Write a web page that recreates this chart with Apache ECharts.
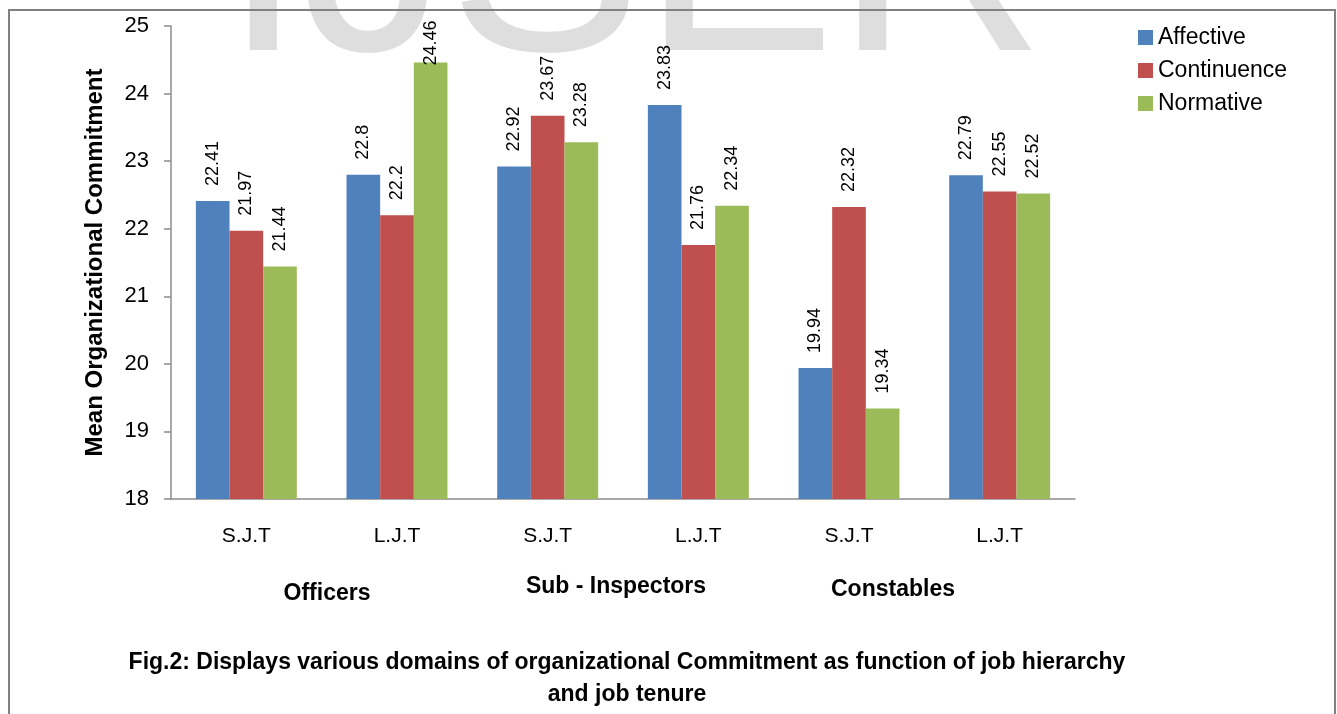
<!DOCTYPE html>
<html>
<head>
<meta charset="utf-8">
<script src="https://cdn.jsdelivr.net/npm/echarts@6/dist/echarts.min.js"></script>
<style>
  html, body { margin: 0; padding: 0; background: #fff; }
  #chart { width: 1337px; height: 714px; }
</style>
</head>
<body>
<div id="chart"></div>
<script>
// tenure under each rank
const tenures = ['S.J.T', 'L.J.T', 'S.J.T', 'L.J.T', 'S.J.T', 'L.J.T']
const ranks = ['Officers', 'Sub - Inspectors', 'Constables']

const affective = [22.41, 22.8, 22.92, 23.83, 19.94, 22.79]
const continuence = [21.97, 22.2, 23.67, 21.76, 22.32, 22.55]
const normative = [21.44, 24.46, 23.28, 22.34, 19.34, 22.52]

const yTicks = [18, 19, 20, 21, 22, 23, 24, 25]

const font = "'Liberation Sans', Arial, sans-serif"

const chart = echarts.init(document.getElementById('chart'))

// value label sits above the bar, rotated; the tallest one is pulled down to fit
function barSeries(name, values, color) {
  return {
    name: name,
    type: 'bar',
    barGap: 0,
    barCategoryGap: '33%',
    itemStyle: { color: color },
    label: {
      show: true,
      position: 'top',
      rotate: 90,
      align: 'left',
      verticalAlign: 'middle',
      distance: 15,
      fontSize: 18,
      fontFamily: font,
      color: '#000'
    },
    data: values.map(v => v > 24.2 ? { value: v, label: { distance: -3 } } : v)
  }
}

const option = {
  animation: false,
  backgroundColor: '#fff',
  grid: { left: 171, right: 262, top: 26, bottom: 215 },
  legend: {
    orient: 'vertical',
    left: 1133,
    top: 21,
    icon: 'rect',
    itemWidth: 15,
    itemHeight: 15,
    itemGap: 10,
    textStyle: { fontSize: 23, fontFamily: font, color: '#000' }
  },
  xAxis: {
    type: 'category',
    data: tenures,
    axisLine: { lineStyle: { color: '#8c8c8c', width: 1.5 } },
    axisTick: { length: 7, lineStyle: { color: '#8c8c8c', width: 1.5 } },
    axisLabel: { margin: 27, fontSize: 21, fontFamily: font, color: '#000' }
  },
  yAxis: {
    type: 'value',
    min: yTicks[0],
    max: yTicks[yTicks.length - 1],
    interval: 1,
    name: 'Mean Organizational Commitment',
    nameLocation: 'middle',
    nameGap: 64,
    nameTextStyle: { fontSize: 24, fontWeight: 'bold', fontFamily: font, color: '#000' },
    axisLine: { show: true, lineStyle: { color: '#8c8c8c', width: 1.5 } },
    axisTick: { show: true, length: 7, lineStyle: { color: '#8c8c8c', width: 1.5 } },
    axisLabel: { margin: 22, fontSize: 22, fontFamily: font, color: '#000' },
    splitLine: { show: false }
  },
  graphic: [
    // watermark, only its lower part is on the page
    {
      type: 'text', z: -10, silent: true,
      style: { x: 223, y: -30, text: 'IJSER', fontSize: 290, fontFamily: font,
        verticalAlign: 'middle', fill: '#dedede' }
    },
    {
      type: 'rect', z: 100, silent: true,
      shape: { x: 9, y: 10, width: 1326, height: 730 },
      style: { fill: 'none', stroke: '#808080', lineWidth: 2 }
    },
    {
      type: 'text', style: { x: 327, y: 594, text: ranks[0], fontSize: 23, fontWeight: 'bold',
        fontFamily: font, align: 'center', verticalAlign: 'middle', fill: '#000' }
    },
    {
      type: 'text', style: { x: 616, y: 587, text: ranks[1], fontSize: 23, fontWeight: 'bold',
        fontFamily: font, align: 'center', verticalAlign: 'middle', fill: '#000' }
    },
    {
      type: 'text', style: { x: 893, y: 590, text: ranks[2], fontSize: 23, fontWeight: 'bold',
        fontFamily: font, align: 'center', verticalAlign: 'middle', fill: '#000' }
    },
    {
      type: 'text', style: { x: 627, y: 663,
        text: 'Fig.2: Displays various domains of organizational Commitment as function of job hierarchy',
        fontSize: 23, fontWeight: 'bold', fontFamily: font, align: 'center', verticalAlign: 'middle', fill: '#000' }
    },
    {
      type: 'text', style: { x: 627, y: 695, text: 'and job tenure',
        fontSize: 23, fontWeight: 'bold', fontFamily: font, align: 'center', verticalAlign: 'middle', fill: '#000' }
    }
  ],
  series: [
    barSeries('Affective', affective, '#4F81BD'),
    barSeries('Continuence', continuence, '#C0504D'),
    barSeries('Normative', normative, '#9BBB59')
  ]
}

chart.setOption(option)
</script>
</body>
</html>
